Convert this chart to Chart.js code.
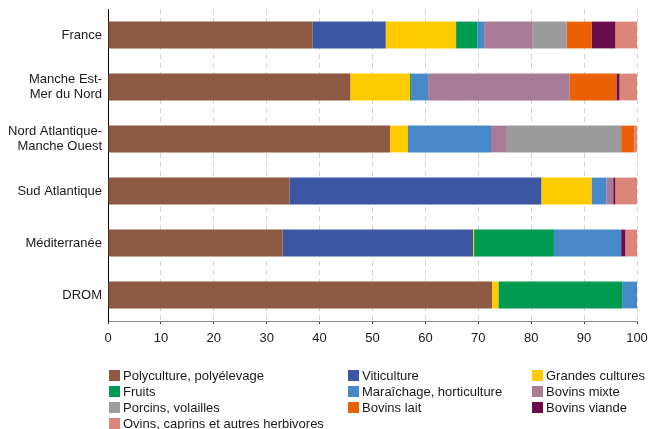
<!DOCTYPE html>
<html>
<head>
<meta charset="utf-8">
<script src="https://cdn.jsdelivr.net/npm/chart.js@4.4.1/dist/chart.umd.min.js"></script>
<style>
  html, body { margin: 0; padding: 0; background: #fff; overflow: hidden; }
  #wrap { position: relative; width: 651px; height: 429px; }
  #c { position: absolute; left: 0; top: 0; }
  .lg { position: absolute; font: 13px "Liberation Sans", Arial, sans-serif; color: #1a1a1a; white-space: nowrap; line-height: 16px; height: 16px; }
  .sw { display: inline-block; width: 11px; height: 11px; vertical-align: -1px; margin-right: 3px; }
</style>
</head>
<body>
<div id="wrap">
  <canvas id="c" width="651" height="429"></canvas>
</div>
<script>
const categories = ['France', ['Manche Est-', 'Mer du Nord'], ['Nord Atlantique-', 'Manche Ouest'], 'Sud Atlantique', 'Méditerranée', 'DROM'];
const xTicks = [0, 10, 20, 30, 40, 50, 60, 70, 80, 90, 100];

const seriesNames = ['Polyculture, polyélevage', 'Viticulture', 'Grandes cultures', 'Fruits', 'Maraîchage, horticulture', 'Bovins mixte', 'Porcins, volailles', 'Bovins lait', 'Bovins viande', 'Ovins, caprins et autres herbivores'];
const seriesColors = ['#8D5942', '#3B57A3', '#FDCB00', '#009B50', '#4688C8', '#A97C96', '#9B9B9B', '#E96104', '#6A0D4A', '#DC857B'];

const polyculture     = [38.7, 45.8, 53.3, 34.3, 33.0, 72.6];
const viticulture     = [13.8, 0, 0, 47.6, 36.0, 0];
const grandesCultures = [13.3, 11.3, 3.4, 9.5, 0.2, 1.2];
const fruits          = [4.0, 0.2, 0, 0, 15.1, 23.4];
const maraichage      = [1.3, 3.2, 15.7, 2.8, 12.7, 2.8];
const bovinsMixte     = [9.2, 26.8, 3.0, 1.3, 0, 0];
const porcins         = [6.4, 0, 21.6, 0, 0, 0];
const bovinsLait      = [4.7, 8.8, 2.5, 0, 0, 0];
const bovinsViande    = [4.5, 0.6, 0, 0.4, 0.8, 0];
const ovins           = [4.1, 3.3, 0.5, 4.1, 2.2, 0];

const seriesValues = [polyculture, viticulture, grandesCultures, fruits, maraichage, bovinsMixte, porcins, bovinsLait, bovinsViande, ovins];

const FONT = '"Liberation Sans", Arial, sans-serif';

const datasets = seriesNames.map((name, i) => ({
  label: name,
  data: seriesValues[i],
  backgroundColor: seriesColors[i],
  borderWidth: 0,
  barPercentage: 0.515,
  categoryPercentage: 1.0
}));

new Chart(document.getElementById('c'), {
  type: 'bar',
  data: { labels: categories, datasets },
  options: {
    indexAxis: 'y',
    responsive: false,
    animation: false,
    layout: { padding: { left: 0, right: 14, top: 9, bottom: 78 } },
    plugins: { legend: { display: false }, tooltip: { enabled: false } },
    scales: {
      x: {
        stacked: true,
        min: 0, max: 100,
        afterBuildTicks: (s) => { s.ticks = xTicks.map(v => ({ value: v })); },
        afterFit: (s) => { s.height = 30; s.paddingLeft = 0; s.paddingRight = 0; },
        grid: {
          display: true,
          color: '#d4d4d4',
          lineWidth: 1,
          drawTicks: true,
          tickLength: 3,
          tickColor: '#333',
          tickBorderDash: [],
          tickWidth: 1
        },
        border: { display: true, color: '#888', width: 1, dash: [5, 4] },
        ticks: { color: '#1a1a1a', font: { family: FONT, size: 13 }, padding: 7, maxRotation: 0 }
      },
      y: {
        stacked: true,
        afterFit: (s) => { s.width = 108; s.paddingTop = 0; s.paddingBottom = 0; },
        grid: { display: false, drawTicks: false },
        border: { display: true, color: '#000', width: 1 },
        ticks: { color: '#1a1a1a', font: { family: FONT, size: 13, lineHeight: 1.15 }, padding: 6 }
      }
    }
  }
});

// legend (3 columns, row-major)
const wrap = document.getElementById('wrap');
const colX = [109, 348, 532];
const rowY = [368, 384, 400, 416];
seriesNames.forEach((name, i) => {
  const d = document.createElement('div');
  d.className = 'lg';
  d.style.left = colX[i % 3] + 'px';
  d.style.top = rowY[Math.floor(i / 3)] + 'px';
  const sw = document.createElement('span');
  sw.className = 'sw';
  sw.style.background = seriesColors[i];
  d.appendChild(sw);
  d.appendChild(document.createTextNode(name));
  wrap.appendChild(d);
});
</script>
</body>
</html>
